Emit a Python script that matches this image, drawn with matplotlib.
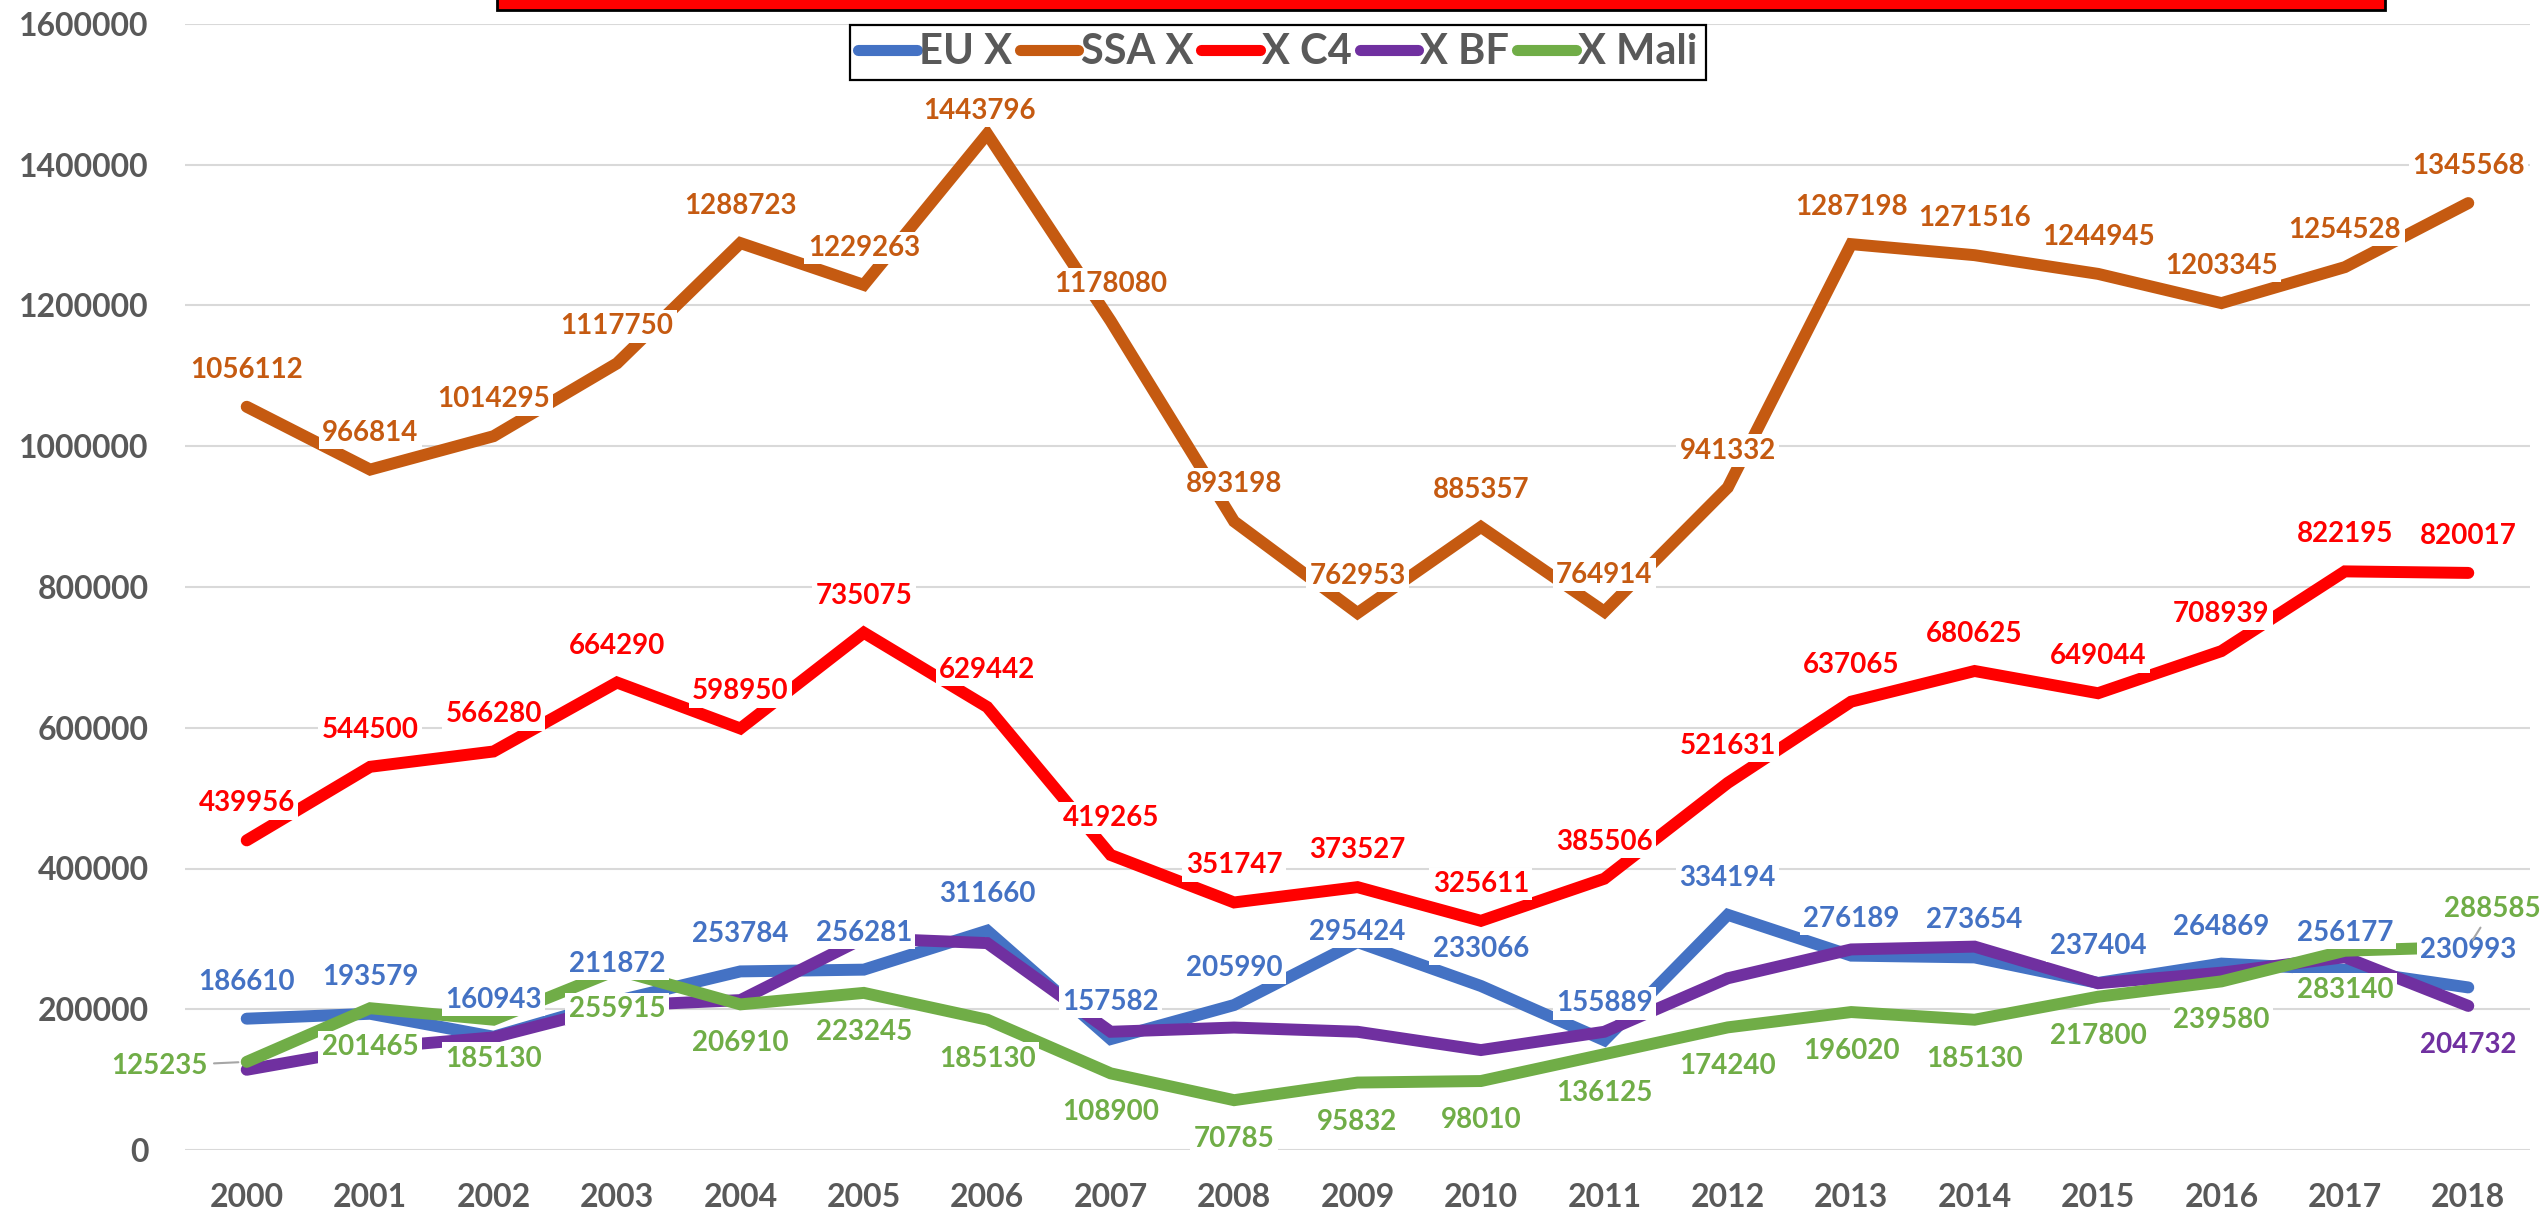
import matplotlib
matplotlib.use("Agg")
import matplotlib.pyplot as plt
from matplotlib.patches import Rectangle

# data
years = [str(y) for y in range(2000, 2019)]
eu_x = [186610, 193579, 160943, 211872, 253784, 256281, 311660, 157582, 205990, 295424,
        233066, 155889, 334194, 276189, 273654, 237404, 264869, 256177, 230993]
ssa_x = [1056112, 966814, 1014295, 1117750, 1288723, 1229263, 1443796, 1178080, 893198, 762953,
         885357, 764914, 941332, 1287198, 1271516, 1244945, 1203345, 1254528, 1345568]
x_c4 = [439956, 544500, 566280, 664290, 598950, 735075, 629442, 419265, 351747, 373527,
        325611, 385506, 521631, 637065, 680625, 649044, 708939, 822195, 820017]
# BF has only its last value labelled, the rest estimated from the line
x_bf = [114000, 145000, 160000, 205000, 213000, 301000, 294000, 168000, 174000, 168000,
        142000, 168000, 244000, 285000, 289000, 237000, 252000, 274000, 204732]
x_mali = [125235, 201465, 185130, 255915, 206910, 223245, 185130, 108900, 70785, 95832,
          98010, 136125, 174240, 196020, 185130, 217800, 239580, 283140, 288585]
series_names = ["EU X", "SSA X", "X C4", "X BF", "X Mali"]
y_ticks = [0, 200000, 400000, 600000, 800000, 1000000, 1200000, 1400000, 1600000]

# styling
colors = ["#4472C4", "#C55A11", "#FF0000", "#7030A0", "#70AD47"]
FONT = ["Lato", "DejaVu Sans"]
GRAY = "#595959"
W, H, DPI = 2542, 1215, 100

# label placement (pixels): default above for the first three, below for Mali
label_dy = {"EU X": 37, "SSA X": 37, "X C4": 37, "X BF": -39, "X Mali": -39}
label_special = {("EU X", 9): (0, 10), ("SSA X", 6): (-8, 23),
                 ("X Mali", 0): (-87, -4), ("X Mali", 18): (24, 38)}
leader = {("X Mali", 0), ("X Mali", 18)}

plt.rcParams["font.family"] = FONT
fig = plt.figure(figsize=(W / DPI, H / DPI), dpi=DPI)
ax = fig.add_axes([185 / W, 1 - 1150 / H, (2530 - 185) / W, (1150 - 24) / H])

x = list(range(len(years)))
all_series = [eu_x, ssa_x, x_c4, x_bf, x_mali]
for i, (name, vals) in enumerate(zip(series_names, all_series)):
    ax.plot(x, vals, color=colors[i], lw=8.6, solid_capstyle="round",
            solid_joinstyle="miter", label=name, zorder=3 + i)

# data labels on top of every line
for i, (name, vals) in enumerate(zip(series_names, all_series)):
    for j, v in enumerate(vals):
        if name == "X BF" and j != len(vals) - 1:
            continue
        dx, dy = label_special.get((name, j), (0, label_dy[name]))
        arrow = None
        if (name, j) in leader:
            arrow = dict(arrowstyle="-", color="#A6A6A6", lw=1.5, shrinkA=2, shrinkB=6)
        ax.annotate(str(v), (j, v), xytext=(dx, dy), textcoords="offset pixels",
                    ha="center", va="center", color=colors[i], fontsize=20,
                    fontweight="bold", zorder=20 + i, arrowprops=arrow,
                    bbox=dict(boxstyle="square,pad=0.12", fc="white", ec="none"))

ax.set_xlim(-0.5, len(years) - 0.5)
ax.set_ylim(0, 1600000)
ax.set_xticks(x)
ax.set_xticklabels(years)
ax.set_yticks(y_ticks)
ax.set_yticklabels([str(t) for t in y_ticks])
ax.tick_params(length=0, labelsize=23, colors=GRAY)
ax.tick_params(axis="y", pad=26)
ax.tick_params(axis="x", pad=24)
for lab in ax.get_xticklabels() + ax.get_yticklabels():
    lab.set_fontweight("bold")
for s in ax.spines.values():
    s.set_visible(False)
ax.yaxis.grid(True, color="#D9D9D9", lw=1.5, zorder=0)
ax.set_axisbelow(True)

leg = fig.legend(loc="upper left", bbox_to_anchor=(850 / W, 1 - 25 / H), ncol=5,
                 prop=dict(size=30, weight="bold"), handlelength=1.4, handletextpad=0.05,
                 columnspacing=0.2, borderpad=0.2, borderaxespad=0, fancybox=False,
                 framealpha=1, edgecolor="black")
leg.get_frame().set_linewidth(1.6)
leg.set_zorder(40)
for t in leg.get_texts():
    t.set_color(GRAY)
for h in leg.get_lines():
    h.set_linewidth(8)

# red title box cut off at the top edge
fig.patches.append(Rectangle((497 / W, 1 - 10 / H), (2385 - 497) / W, 20 / H,
                             transform=fig.transFigure, fc="#FF0000", ec="black",
                             lw=2, zorder=30))

fig.savefig("out.png", dpi=DPI)
